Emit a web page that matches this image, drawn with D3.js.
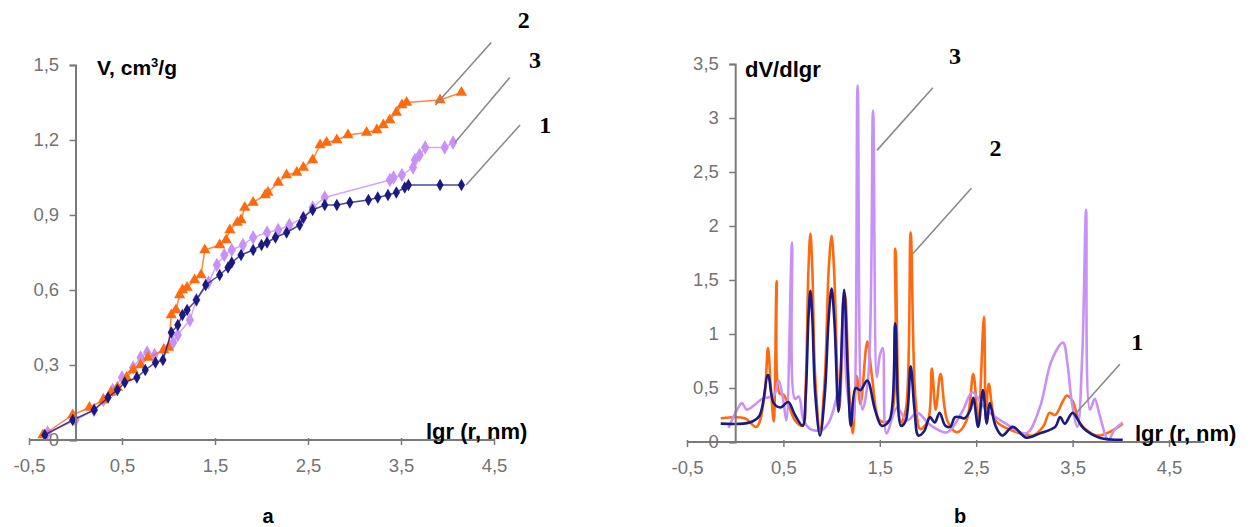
<!DOCTYPE html>
<html>
<head>
<meta charset="utf-8">
<script src="https://cdn.jsdelivr.net/npm/d3@7"></script>
<style>
  body { margin: 0; background: #fff; }
  svg { font-family: 'Liberation Sans', Arial, sans-serif; }
</style>
</head>
<body>
<svg></svg>
<script>
// ticks for both panels
let xTicks = [-0.5, 0.5, 1.5, 2.5, 3.5, 4.5]
let vTicks = [0, 0.3, 0.6, 0.9, 1.2, 1.5]
let dvTicks = [0, 0.5, 1, 1.5, 2, 2.5, 3, 3.5]

// panel a: cumulative volume, [lgr, V]
let vol1 = [[-0.33,0.02],[-0.03,0.08],[0.2,0.12],[0.35,0.17],[0.45,0.2],[0.53,0.23],[0.66,0.25],[0.75,0.28],[0.86,0.31],[0.94,0.32],
  [1.03,0.43],[1.1,0.46],[1.15,0.5],[1.2,0.52],[1.3,0.56],[1.4,0.62],[1.55,0.66],[1.64,0.69],[1.68,0.71],[1.78,0.74],
  [1.91,0.76],[2.0,0.78],[2.06,0.79],[2.15,0.81],[2.27,0.83],[2.41,0.86],[2.45,0.89],[2.55,0.92],[2.68,0.94],[2.81,0.94],
  [2.95,0.95],[3.15,0.96],[3.25,0.97],[3.36,0.98],[3.45,0.99],[3.54,1.01],[3.58,1.02],[3.92,1.02],[4.15,1.02]]
let vol2 = [[-0.35,0.02],[-0.03,0.1],[0.15,0.13],[0.3,0.16],[0.38,0.19],[0.45,0.21],[0.55,0.25],[0.62,0.28],[0.7,0.3],[0.78,0.33],
  [0.95,0.36],[1.0,0.37],[1.03,0.5],[1.08,0.52],[1.12,0.58],[1.15,0.6],[1.2,0.61],[1.28,0.64],[1.35,0.66],[1.39,0.76],
  [1.55,0.78],[1.62,0.8],[1.66,0.84],[1.74,0.87],[1.78,0.88],[1.82,0.93],[1.91,0.95],[2.04,0.98],[2.07,0.99],[2.18,1.03],
  [2.27,1.06],[2.38,1.07],[2.45,1.09],[2.55,1.12],[2.63,1.18],[2.7,1.19],[2.81,1.2],[2.93,1.22],[3.13,1.23],[3.24,1.24],
  [3.31,1.26],[3.38,1.28],[3.45,1.31],[3.51,1.34],[3.56,1.35],[3.92,1.36],[4.15,1.39]]
let vol3 = [[-0.3,0.03],[0.0,0.08],[0.2,0.12],[0.3,0.16],[0.4,0.2],[0.5,0.25],[0.62,0.29],[0.7,0.33],[0.77,0.35],[0.85,0.34],
  [0.95,0.36],[1.05,0.39],[1.1,0.42],[1.23,0.48],[1.3,0.56],[1.43,0.63],[1.52,0.7],[1.6,0.74],[1.68,0.76],[1.8,0.78],
  [1.91,0.81],[2.06,0.83],[2.18,0.84],[2.3,0.86],[2.45,0.89],[2.55,0.93],[2.68,0.97],[3.38,1.04],[3.42,1.05],[3.51,1.06],
  [3.63,1.09],[3.65,1.12],[3.7,1.14],[3.76,1.17],[3.97,1.17],[4.06,1.19]]

// panel b: dV/dlgr, [lgr, value]
let dv1 = [[-0.15,0.17],[0.15,0.18],[0.25,0.24],[0.34,0.62],[0.4,0.36],[0.47,0.32],[0.55,0.37],[0.62,0.25],[0.7,0.15],[0.73,0.4],
  [0.76,1.15],[0.78,1.4],[0.8,1.15],[0.83,0.45],[0.88,0.06],[0.93,0.45],[0.97,1.15],[1.0,1.42],[1.03,1.1],[1.07,0.28],
  [1.09,0.55],[1.13,1.41],[1.17,0.6],
  [1.2,0.15],[1.25,0.5],[1.3,0.48],[1.37,0.57],[1.45,0.3],[1.52,0.15],[1.6,0.2],[1.66,1.1],[1.72,0.15],[1.77,0.2],
  [1.82,0.7],[1.86,0.3],[1.9,0.06],[1.96,0.1],[2.02,0.23],[2.07,0.18],[2.12,0.27],[2.18,0.15],[2.23,0.14],[2.28,0.23],
  [2.33,0.23],[2.38,0.22],[2.44,0.3],[2.47,0.41],[2.52,0.14],[2.57,0.48],[2.61,0.17],[2.64,0.36],[2.7,0.15],[2.77,0.06],
  [2.88,0.14],[3.02,0.04],[3.16,0.08],[3.32,0.14],[3.37,0.23],[3.42,0.17],[3.5,0.27],[3.61,0.13],[3.78,0.04],[4.02,0.02]]
let dv2 = [[-0.15,0.22],[0.1,0.22],[0.22,0.14],[0.3,0.4],[0.34,0.87],[0.37,0.5],[0.4,0.19],[0.43,1.49],[0.46,0.45],[0.5,0.44],
  [0.55,0.35],[0.62,0.2],[0.7,0.15],[0.73,0.5],[0.76,1.6],[0.78,1.93],[0.8,1.6],[0.83,0.6],[0.88,0.12],[0.93,0.6],
  [0.97,1.6],[1.0,1.91],[1.03,1.5],[1.06,0.6],
  [1.08,0.3],[1.14,1.37],[1.18,0.5],[1.22,0.08],[1.26,0.61],[1.3,0.35],[1.37,0.93],[1.42,0.6],[1.5,0.2],[1.6,0.2],
  [1.66,1.79],[1.72,0.18],[1.77,0.3],[1.82,1.94],[1.87,0.4],[1.92,0.12],[2.0,0.2],[2.04,0.68],[2.08,0.3],[2.13,0.63],
  [2.2,0.2],[2.3,0.09],[2.4,0.2],[2.47,0.63],[2.52,0.2],[2.58,1.16],[2.6,0.2],[2.63,0.54],[2.7,0.2],[2.81,0.13],
  [3.0,0.07],[3.09,0.06],[3.2,0.15],[3.26,0.27],[3.32,0.25],[3.4,0.38],[3.44,0.43],[3.5,0.38],[3.58,0.17],[3.75,0.06],
  [3.9,0.1],[4.02,0.17]]
let dv3 = [[-0.07,0.13],[0.02,0.3],[0.07,0.36],[0.12,0.3],[0.21,0.35],[0.28,0.4],[0.4,0.43],[0.45,0.57],[0.5,0.38],[0.53,0.2],
  [0.59,1.85],[0.62,0.4],[0.66,0.42],[0.71,0.2],[0.78,0.12],[0.9,0.11],[0.97,0.18],[1.02,0.3],[1.09,0.6],[1.12,1.3],
  [1.16,0.5],[1.22,0.2],[1.27,3.3],[1.32,0.3],[1.38,0.6],[1.43,3.07],[1.47,0.6],[1.5,0.8],[1.53,0.87],[1.57,0.08],
  [1.68,0.32],[1.78,0.2],[1.89,0.27],[2.02,0.16],[2.2,0.09],[2.36,0.29],[2.46,0.46],[2.6,0.3],[2.81,0.17],[3.02,0.08],
  [3.16,0.32],[3.28,0.75],[3.4,0.92],[3.45,0.7],[3.49,0.38],[3.55,0.14],[3.6,0.8],[3.64,2.15],[3.68,0.3],[3.73,0.4],
  [3.78,0.25],[3.87,0.02],[3.94,0.12],[4.02,0.18]]

// curve numbers with their leader lines: [label x, label y, line start, line end]
let callA = [{ t: '2', at: [4.82, 1.65], from: [4.47, 1.59], to: [3.87, 1.34] },
             { t: '3', at: [4.94, 1.49], from: [4.67, 1.45], to: [4.08, 1.19] },
             { t: '1', at: [5.05, 1.23], from: [4.78, 1.26], to: [4.2, 1.02] }]
let callB = [{ t: '3', at: [2.28, 3.5], from: [2.05, 3.28], to: [1.47, 2.70] },
             { t: '2', at: [2.7, 2.65], from: [2.45, 2.35], to: [1.84, 1.74] },
             { t: '1', at: [4.17, 0.85], from: [3.99, 0.72], to: [3.54, 0.27] }]

let colors = { 1: '#1b1a80', 2: '#ff6a0e', 3: '#c891f6' }

let width = 1255
let height = 527
let svg = d3.select('svg').attr('width', width).attr('height', height)

let comma = (d) => String(d).replace('.', ',')

let drawAxes = (g, xScale, yScale, yTicks, xEnd) => {
  let xAxis = d3.axisBottom(xScale).tickValues(xTicks).tickFormat(comma).tickSizeOuter(0).tickSize(5)
  let yAxis = d3.axisLeft(yScale).tickValues(yTicks).tickFormat(comma).tickSizeOuter(0).tickSize(6)

  let gx = g.append('g')
    .attr('transform', 'translate(0,' + yScale(0) + ')')
    .call(xAxis)
  gx.select('.domain').attr('d', 'M' + xScale(-0.5) + ',0H' + xScale(xEnd))
  gx.selectAll('.tick line').attr('y1', -2)

  let gy = g.append('g')
    .attr('transform', 'translate(' + xScale(0) + ',0)')
    .call(yAxis)

  g.selectAll('.domain').attr('stroke', '#7a7a7a').attr('stroke-width', 2)
  g.selectAll('.tick line').attr('stroke', '#7a7a7a').attr('stroke-width', 1.5)
  g.selectAll('.tick text').attr('fill', '#737373').style('font-size', '18.5px')
  gx.selectAll('.tick text').attr('dy', '1.3em')
  gy.selectAll('.tick text').attr('dx', '-0.4em')
}

let drawCallouts = (g, xScale, yScale, list) => {
  list.forEach((c) => {
    g.append('line')
      .attr('x1', xScale(c.from[0])).attr('y1', yScale(c.from[1]))
      .attr('x2', xScale(c.to[0])).attr('y2', yScale(c.to[1]))
      .attr('stroke', '#8a8a8a').attr('stroke-width', 1.6)
    g.append('text')
      .attr('x', xScale(c.at[0])).attr('y', yScale(c.at[1]))
      .attr('text-anchor', 'middle')
      .style('font-family', "'Liberation Serif', 'Times New Roman', serif")
      .style('font-weight', 'bold').style('font-size', '24px')
      .text(c.t)
  })
}

// ---- panel a
let xA = d3.scaleLinear().domain([-0.5, 4.5]).range([29, 494])
let yA = d3.scaleLinear().domain([0, 1.5]).range([440, 65])
let gA = svg.append('g')

let lineA = d3.line().x((d) => xA(d[0])).y((d) => yA(d[1]))
let seriesA = [
  { key: 3, data: vol3, symbol: d3.symbolDiamond, size: 60 },
  { key: 2, data: vol2, symbol: d3.symbolTriangle, size: 55 },
  { key: 1, data: vol1, symbol: d3.symbolDiamond, size: 45 }
]
seriesA.forEach((s) => {
  gA.append('path')
    .datum(s.data)
    .attr('d', lineA)
    .attr('fill', 'none')
    .attr('stroke', colors[s.key])
    .attr('stroke-opacity', 0.8)
    .attr('stroke-width', 1.5)
  gA.selectAll('.m' + s.key)
    .data(s.data)
    .enter()
    .append('path')
    .attr('class', 'm' + s.key)
    .attr('d', d3.symbol().type(s.symbol).size(s.size))
    .attr('transform', (d) => 'translate(' + xA(d[0]) + ',' + yA(d[1]) + ')')
    .attr('fill', colors[s.key])
})
drawAxes(gA, xA, yA, vTicks, 4.5)
drawCallouts(gA, xA, yA, callA)

gA.append('text').attr('x', 97).attr('y', 75)
  .style('font-weight', 'bold').style('font-size', '21px')
  .html('V, cm<tspan dy="-8" style="font-size:13px">3</tspan><tspan dy="8">/g</tspan>')
gA.append('text').attr('x', 426).attr('y', 439)
  .style('font-weight', 'bold').style('font-size', '22px')
  .text('lgr (r, nm)')
gA.append('text').attr('x', 268).attr('y', 523).attr('text-anchor', 'middle')
  .style('font-weight', 'bold').style('font-size', '20px')
  .text('a')

// ---- panel b
let xB = d3.scaleLinear().domain([-0.5, 4.5]).range([687, 1169])
let yB = d3.scaleLinear().domain([0, 3.5]).range([442, 64])
let gB = svg.append('g')

let lineB = d3.line()
  .x((d) => xB(d[0]))
  .y((d) => Math.min(yB(0), yB(d[1])))
  .curve(d3.curveCatmullRom.alpha(0.5))

let seriesB = [{ key: 2, data: dv2 }, { key: 3, data: dv3 }, { key: 1, data: dv1 }]
seriesB.forEach((s) => {
  gB.append('path')
    .datum(s.data)
    .attr('d', lineB)
    .attr('fill', 'none')
    .attr('stroke', colors[s.key])
    .attr('stroke-width', 2.6)
    .attr('stroke-linejoin', 'round')
})
drawAxes(gB, xB, yB, dvTicks, 4.87)
drawCallouts(gB, xB, yB, callB)

gB.append('text').attr('x', 745).attr('y', 77)
  .style('font-weight', 'bold').style('font-size', '22px')
  .text('dV/dlgr')
gB.append('text').attr('x', 1135).attr('y', 441)
  .style('font-weight', 'bold').style('font-size', '22px')
  .text('lgr (r, nm)')
gB.append('text').attr('x', 960).attr('y', 523).attr('text-anchor', 'middle')
  .style('font-weight', 'bold').style('font-size', '20px')
  .text('b')
</script>
</body>
</html>
